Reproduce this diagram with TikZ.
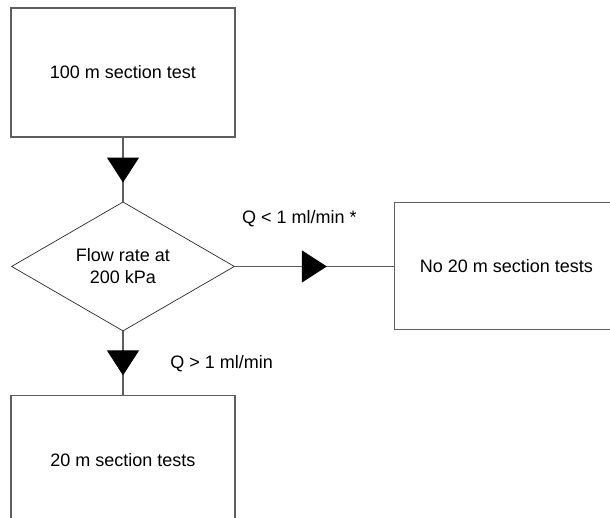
\documentclass[tikz,border=0pt]{standalone}
\usepackage{fontspec}
\setmainfont{Liberation Sans}
\usepackage{xcolor}
\usepackage{tikz}
\usetikzlibrary{positioning,calc,shapes.geometric,arrows.meta,decorations.markings}
\definecolor{bg}{HTML}{FFFFFF}
\definecolor{edge}{HTML}{5E5E5E}
\definecolor{diaEdge}{HTML}{2A2A2A}
\definecolor{text}{HTML}{000000}
\tikzset{
  boxNode/.style={draw=edge, line width=0.75pt, minimum width=5.6cm, minimum height=3.225cm,
    inner sep=0pt, text=text, font=\fontsize{12.8}{15.6}\selectfont},
  diaNode/.style={diamond, draw=diaEdge, line width=0.5pt, minimum width=5.575cm, minimum height=3.175cm,
    inner sep=0pt, align=center, text=text, font=\fontsize{12.8}{15.6}\selectfont},
  lbl/.style={anchor=west, inner sep=0pt, text=text, font=\fontsize{12.8}{15.6}\selectfont},
  flowLine/.style={draw=edge, line width=0.75pt, postaction={decorate},
    decoration={markings, mark=at position #1 with
      {\arrow[black]{Triangle[length=0.625cm,width=0.8cm]}}}},
}

\begin{document}
\begin{tikzpicture}
  \clip (0,0) rectangle (15.25,12.925);
  \fill[bg] (0,0) rectangle (15.25,12.925);

  \node[boxNode] (hundred) at (3.075,11.1125) {100 m section test};
  \node[diaNode, below=1.6cm of hundred] (flow) {Flow rate at\\200 kPa};
  \node[boxNode, minimum height=3.175cm, right=3.975cm of flow] (noTwenty) {No 20 m section tests};
  \node[boxNode, below=1.6cm of flow] (twenty) {20 m section tests};

  \draw[flowLine=1.125cm] (hundred.south) -- (flow.north);
  \draw[flowLine=2.3cm] (flow.east) -- (noTwenty.west);
  \draw[flowLine=1.1cm] (flow.south) -- (twenty.north);

  \node[lbl] (lessQ) at ($(flow.east)+(0.175,1.2)$) {Q < 1 ml/min *};
  \node[lbl] (moreQ) at ($(flow.south)+(1.175,-0.8)$) {Q > 1 ml/min};
\end{tikzpicture}
\end{document}
